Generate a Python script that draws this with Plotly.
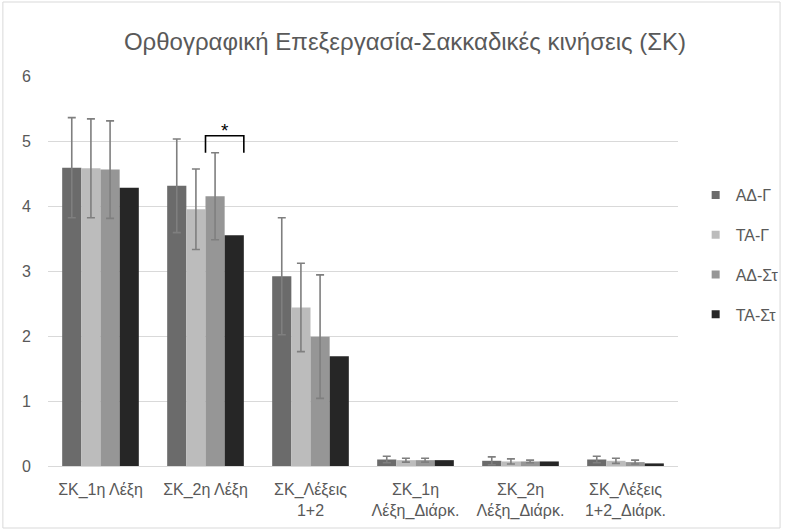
import plotly.graph_objects as go

categories = [
    "ΣΚ_1η Λέξη",
    "ΣΚ_2η Λέξη",
    "ΣΚ_Λέξεις<br>1+2",
    "ΣΚ_1η<br>Λέξη_Διάρκ.",
    "ΣΚ_2η<br>Λέξη_Διάρκ.",
    "ΣΚ_Λέξεις<br>1+2_Διάρκ.",
]
series_names = ["ΑΔ-Γ", "ΤΑ-Γ", "ΑΔ-Στ", "ΤΑ-Στ"]
series_colors = ["#6b6b6b", "#bcbcbc", "#969696", "#262626"]

ad_g = [4.59, 4.31, 2.92, 0.10, 0.08, 0.10]
ta_g = [4.58, 3.95, 2.44, 0.09, 0.07, 0.08]
ad_st = [4.56, 4.15, 1.99, 0.09, 0.07, 0.06]
ta_st = [4.28, 3.55, 1.69, 0.09, 0.07, 0.04]

ad_g_err = [0.77, 0.72, 0.90, 0.05, 0.06, 0.05]
ta_g_err = [0.76, 0.62, 0.68, 0.03, 0.04, 0.04]
ad_st_err = [0.75, 0.67, 0.95, 0.03, 0.02, 0.03]

y_ticks = [0, 1, 2, 3, 4, 5, 6]

values = [ad_g, ta_g, ad_st, ta_st]
errors = [ad_g_err, ta_g_err, ad_st_err, None]

TEXT = "#595959"
BARGAP = 0.27
fig = go.Figure()
for name, color, vals, err in zip(series_names, series_colors, values, errors):
    fig.add_trace(go.Bar(
        name=name,
        x=categories,
        y=vals,
        marker=dict(color=color, line=dict(width=0)),
        showlegend=False,
        error_y=(dict(type="data", array=err, visible=True, color="#7f7f7f",
                      thickness=1.6, width=4) if err is not None else dict(visible=False)),
    ))

# legend entries drawn as small square markers
for name, color in zip(series_names, series_colors):
    fig.add_trace(go.Scatter(
        name=name, x=[None], y=[None], mode="markers",
        marker=dict(symbol="square", size=8, color=color),
        showlegend=True, legendgroup=name,
    ))

# significance bracket between ΑΔ-Στ and ΤΑ-Στ in the second group
group_w = 1 - BARGAP
bar_w = group_w / len(series_names)
cat_idx = 1
x_left = cat_idx - group_w / 2 + 2 * bar_w
x_right = cat_idx - group_w / 2 + 4 * bar_w
y_top = 5.08
y_foot = 4.82
fig.add_shape(type="path", xref="x", yref="y",
              path=f"M {x_left},{y_foot} L {x_left},{y_top} L {x_right},{y_top} L {x_right},{y_foot}",
              line=dict(color="#000000", width=1.6))
fig.add_annotation(x=(x_left + x_right) / 2, y=y_top, xref="x", yref="y",
                   text="*", showarrow=False, yanchor="bottom", yshift=-7,
                   font=dict(size=19, color="#000000", family="Liberation Sans"))

# light chart border
fig.add_shape(type="rect", xref="paper", yref="paper",
              x0=-46 / 642, x1=1 + 104 / 642, y0=-62 / 390, y1=1 + 74 / 390,
              line=dict(color="#d9d9d9", width=1), fillcolor="rgba(0,0,0,0)")

fig.update_layout(
    width=796, height=530,
    margin=dict(l=48, r=106, t=76, b=64),
    paper_bgcolor="#ffffff", plot_bgcolor="#ffffff",
    barmode="group", bargap=BARGAP, bargroupgap=0,
    font=dict(family="Liberation Sans, Arial, sans-serif", color=TEXT, size=16),
    title=dict(text="Ορθογραφική Επεξεργασία-Σακκαδικές κινήσεις (ΣΚ)",
               x=405 / 796, xanchor="center", y=1 - 42 / 530, yanchor="middle",
               font=dict(size=24, color=TEXT)),
    legend=dict(x=(708 - 48) / 642, xanchor="left", y=(466 - 255) / 390, yanchor="middle",
                tracegroupgap=16, traceorder="grouped", font=dict(size=16, color=TEXT),
                itemwidth=30, bgcolor="rgba(0,0,0,0)"),
    xaxis=dict(showgrid=False, showline=False, ticks="", ticklabelstandoff=12,
               automargin=False, tickfont=dict(size=16, color=TEXT)),
    yaxis=dict(range=[0, 6], tickvals=y_ticks, showgrid=True, gridcolor="#d9d9d9",
               gridwidth=1, zeroline=True, zerolinecolor="#d9d9d9", zerolinewidth=1,
               showline=False, ticks="", ticklabelstandoff=16, automargin=False,
               tickfont=dict(size=16, color=TEXT)),
)

fig.write_html("out.html")
